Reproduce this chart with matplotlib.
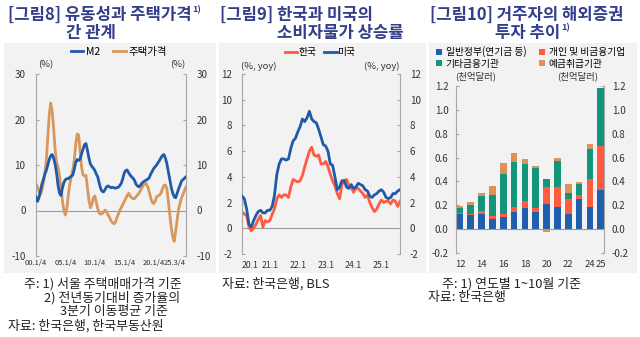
import numpy as np
import matplotlib
matplotlib.use('Agg')
import matplotlib.pyplot as plt
from matplotlib.patches import Rectangle

plt.rcParams['font.family'] = ['Noto Sans CJK KR', 'DejaVu Sans']
plt.rcParams['axes.unicode_minus'] = False

W, H = 640, 337

# ---- [그림8] M2 vs housing prices (quarterly, 2000Q1-2025Q3, %) ----
m2 = [3.0, 2.0, 2.8, 4.2, 5.8, 6.8, 8.0, 8.8, 10.0, 11.2, 12.0, 12.3, 11.5, 10.2, 8.2, 5.5,
      3.8, 3.3, 5.0, 6.2, 6.8, 7.0, 7.0, 7.3, 7.5, 7.8, 9.0, 10.6, 11.2, 11.0, 11.3, 12.5,
      13.5, 14.5, 14.7, 13.2, 11.5, 10.2, 9.7, 9.3, 8.8, 8.0, 7.4, 6.0, 4.8, 4.2, 4.1, 4.6,
      5.2, 5.4, 5.2, 5.0, 5.1, 5.0, 4.9, 5.0, 5.1, 5.5, 6.0, 7.0, 8.2, 8.8, 8.9, 8.3,
      7.8, 7.4, 7.1, 6.6, 5.8, 5.4, 5.2, 5.5, 6.0, 6.3, 6.5, 6.7, 6.9, 7.2, 8.0, 8.6,
      9.2, 9.6, 10.0, 10.5, 11.0, 11.6, 12.1, 12.3, 11.5, 10.3, 8.5, 6.8, 5.0, 3.8, 3.0, 2.8,
      3.8, 4.8, 5.6, 6.5, 6.8, 7.1, 7.4]
house = [5.9, 5.2, 4.2, 3.5, 4.5, 6.0, 8.0, 11.0, 16.0, 21.0, 23.6, 21.8, 18.0, 13.5, 10.5, 9.5,
         7.5, 5.0, 2.0, 0.0, -1.0, 0.5, 3.5, 5.8, 7.5, 8.9, 11.0, 14.5, 16.8, 16.6, 13.0, 9.5,
         7.8, 7.6, 7.7, 5.0, 2.2, 0.6, 1.4, 2.8, 3.2, 1.8, 0.4, -0.6, -0.8, -0.7, -0.3, 0.1,
         -0.3, -1.0, -1.5, -2.2, -2.7, -2.9, -2.6, -1.6, -0.8, 0.0, 0.7, 1.3, 2.0, 2.6, 3.3, 3.8,
         3.2, 2.8, 2.6, 2.6, 3.0, 3.4, 3.8, 4.4, 5.0, 5.6, 5.8, 5.9, 5.2, 4.1, 2.8, 1.8,
         1.5, 2.0, 3.0, 3.2, 3.4, 3.8, 4.8, 5.5, 5.6, 4.8, 2.0, -1.0, -3.8, -5.8, -6.8, -4.5,
         -2.0, 0.4, 1.6, 2.8, 3.6, 4.4, 5.2]
q_labels = ['00.1/4', '05.1/4', '10.1/4', '15.1/4', '20.1/4', '25.3/4']
q_label_idx = [0, 20, 40, 60, 80, 102]

# ---- [그림9] CPI inflation, Korea vs US (monthly, 2020.1-2025.9, % yoy) ----
cpi_kr = [1.3, 1.1, 1.0, 0.1, -0.2, 0.0, 0.3, 0.7, 1.0, 0.1, 0.6, 0.5,
          0.6, 1.1, 1.5, 2.3, 2.6, 2.4, 2.6, 2.6, 2.4, 3.2, 3.8, 3.7,
          3.6, 3.7, 4.1, 4.8, 5.4, 6.0, 6.3, 5.7, 5.6, 5.7, 5.0, 5.0,
          5.2, 4.8, 4.2, 3.7, 3.3, 2.7, 2.3, 3.4, 3.7, 3.8, 3.3, 3.2,
          2.8, 3.1, 3.1, 2.9, 2.7, 2.4, 2.6, 2.0, 1.6, 1.3, 1.5, 1.9,
          2.2, 2.0, 2.1, 2.1, 1.9, 2.2, 2.1, 1.7, 2.1]
cpi_us = [2.5, 2.3, 1.5, 0.3, 0.1, 0.6, 1.0, 1.3, 1.4, 1.2, 1.2, 1.4,
          1.4, 1.7, 2.6, 4.2, 5.0, 5.4, 5.4, 5.3, 5.4, 6.2, 6.8, 7.0,
          7.5, 7.9, 8.5, 8.3, 8.6, 9.1, 8.5, 8.3, 8.2, 7.7, 7.1, 6.5,
          6.4, 6.0, 5.0, 4.9, 4.0, 3.0, 3.2, 3.7, 3.7, 3.2, 3.1, 3.4,
          3.1, 3.2, 3.5, 3.4, 3.3, 3.0, 2.9, 2.5, 2.4, 2.6, 2.7, 2.9,
          3.0, 2.8, 2.4, 2.3, 2.4, 2.7, 2.7, 2.9, 3.0]
m_labels = ['20.1', '21.1', '22.1', '23.1', '24.1', '25.1']
m_label_idx = [0, 12, 24, 36, 48, 60]

# ---- [그림10] Residents' overseas securities investment (천억달러) ----
years = ['12', '13', '14', '15', '16', '17', '18', '19', '20', '21', '22', '23', '24', '25']
gov = [0.125, 0.117, 0.131, 0.087, 0.098, 0.145, 0.176, 0.145, 0.210, 0.187, 0.131, 0.252, 0.185, 0.330]
corp = [0.010, 0.014, 0.020, 0.019, 0.028, 0.042, 0.056, 0.034, 0.145, 0.168, 0.118, 0.033, 0.232, 0.367]
other_fin = [0.045, 0.069, 0.129, 0.179, 0.333, 0.378, 0.311, 0.330, 0.062, 0.218, 0.051, 0.093, 0.252, 0.483]
deposit = [0.014, 0.024, 0.025, 0.075, 0.098, 0.070, 0.047, 0.022, -0.020, 0.027, 0.075, 0.014, 0.044, -0.005]
shown_year_labels = ['12', '14', '16', '18', '20', '22', '24', '25']

TITLE_C = '#343f8c'
TEXT_C = '#333333'
SPINE_C = '#a6a6a6'
BG_C = '#f2f2f2'

fig = plt.figure(figsize=(W / 100, H / 100), dpi=100)
fig.patch.set_facecolor('white')

# light panels behind each chart
for x0, x1 in [(4, 216), (219, 426), (429, 637)]:
    fig.patches.append(Rectangle((x0 / W, 1 - 273 / H), (x1 - x0) / W, (273 - 43) / H,
                                 transform=fig.transFigure, facecolor=BG_C, edgecolor='none',
                                 zorder=-10))


def px_axes(x0, x1, ytop, ybot):
    ax = fig.add_axes([x0 / W, 1 - ybot / H, (x1 - x0) / W, (ybot - ytop) / H])
    ax.patch.set_visible(False)
    return ax


def style(ax, ypad, xpad, xsize):
    for s in ['top', 'bottom']:
        ax.spines[s].set_visible(False)
    for s in ['left', 'right']:
        ax.spines[s].set_color(SPINE_C)
        ax.spines[s].set_linewidth(0.8)
    ax.tick_params(axis='y', direction='in', length=2.5, width=0.8, color=SPINE_C,
                   labelsize=7, labelcolor=TEXT_C, left=True, right=True,
                   labelleft=True, labelright=True, pad=ypad)
    ax.tick_params(axis='x', bottom=True, top=False, length=0, labelsize=xsize,
                   labelcolor=TEXT_C, pad=xpad, labelbottom=True, labeltop=False)
    ax.axhline(0, color='#9a9a9a', lw=0.8, zorder=1)


def fx(px):
    return px / W


def fy(py):
    return 1 - py / H


# ---------------- Panel 1 ----------------
ax1 = px_axes(36, 186, 74, 256)
xq = np.arange(len(m2))
l_m2, = ax1.plot(xq, m2, color='#1f5aa8', lw=2.0, label='M2', zorder=3)
l_h, = ax1.plot(xq, house, color='#d8975d', lw=2.0, label='주택가격', zorder=2)
ax1.set_xlim(0, len(m2) - 1)
ax1.set_ylim(-10, 30)
ax1.set_yticks(np.arange(-10, 31, 10))
style(ax1, ypad=7.5, xpad=2, xsize=5.5)
ax1.set_xticks(q_label_idx)
ax1.set_xticklabels(q_labels)
ax1.get_xticklabels()[-1].set_ha('right')
ax1.legend(handles=[l_m2, l_h], loc='center', bbox_to_anchor=(fx(119), fy(52)),
           bbox_transform=fig.transFigure, ncol=2, frameon=False, fontsize=7.5,
           handlelength=1.2, handletextpad=0.3, columnspacing=1.2, borderpad=0)
fig.text(fx(46), fy(65), '(%)', fontsize=6.8, color=TEXT_C, ha='center', va='center')
fig.text(fx(178), fy(65), '(%)', fontsize=6.8, color=TEXT_C, ha='center', va='center')

# ---------------- Panel 2 ----------------
ax2 = px_axes(242, 400, 74, 254)
xm = np.arange(len(cpi_kr))
l_kr, = ax2.plot(xm, cpi_kr, color='#ff5a42', lw=2.0, label='한국', zorder=2)
l_us, = ax2.plot(xm, cpi_us, color='#1f5aa8', lw=2.0, label='미국', zorder=3)
ax2.set_xlim(0, len(cpi_kr) - 1)
ax2.set_ylim(-2, 12)
ax2.set_yticks(np.arange(-2, 13, 2))
style(ax2, ypad=7, xpad=5, xsize=6.3)
ax2.set_xticks(m_label_idx)
ax2.set_xticklabels(m_labels)
ax2.get_xticklabels()[0].set_ha('left')
ax2.legend(handles=[l_kr, l_us], loc='center', bbox_to_anchor=(fx(320), fy(52)),
           bbox_transform=fig.transFigure, ncol=2, frameon=False, fontsize=7,
           handlelength=1.3, handletextpad=0.1, columnspacing=0.8, borderpad=0)
fig.text(fx(259), fy(66), '(%, yoy)', fontsize=6.8, color=TEXT_C, ha='center', va='center')
fig.text(fx(382), fy(66), '(%, yoy)', fontsize=6.8, color=TEXT_C, ha='center', va='center')

# ---------------- Panel 3 ----------------
ax3 = px_axes(456, 604, 86, 253)
xb = np.arange(len(years))
pos_base = np.zeros(len(years))
neg_base = np.zeros(len(years))
handles = []
series = [(gov, '#1f5fad', '일반정부(연기금 등)'),
          (corp, '#ff5b40', '개인 및 비금융기업'),
          (other_fin, '#12957b', '기타금융기관'),
          (deposit, '#d99259', '예금취급기관')]
for vals, col, lab in series:
    v = np.array(vals)
    bottom = np.where(v >= 0, pos_base, neg_base)
    bc = ax3.bar(xb, v, 0.62, bottom=bottom, color=col, label=lab, zorder=2)
    pos_base = pos_base + np.clip(v, 0, None)
    neg_base = neg_base + np.clip(v, None, 0)
    handles.append(bc)
ax3.set_xlim(-0.37, len(years) - 1 + 0.3)
ax3.set_ylim(-0.2, 1.2)
yt3 = np.round(np.arange(-0.2, 1.21, 0.2), 1)
ax3.set_yticks(yt3)
ax3.set_yticklabels([f'{t:.1f}' for t in yt3])
style(ax3, ypad=5.5, xpad=5, xsize=6.8)
ax3.set_xticks([years.index(y) for y in shown_year_labels])
ax3.set_xticklabels(shown_year_labels)
ax3.legend(handles=[handles[0], handles[2], handles[1], handles[3]],
           loc='center left', bbox_to_anchor=(fx(436), fy(57.5)),
           bbox_transform=fig.transFigure, ncol=2, frameon=False, fontsize=7,
           handlelength=0.6, handleheight=0.6, handletextpad=0.4, columnspacing=1.3,
           labelspacing=0.15, borderpad=0, borderaxespad=0)
fig.text(fx(476), fy(76), '(천억달러)', fontsize=6.8, color=TEXT_C, ha='center', va='center')
fig.text(fx(578), fy(76), '(천억달러)', fontsize=6.8, color=TEXT_C, ha='center', va='center')

# ---------------- Titles ----------------
title_kw = dict(fontsize=12, fontweight='bold', color=TITLE_C, va='center', ha='left')
t1 = fig.text(fx(8), fy(15), '[그림8] 유동성과 주택가격', **title_kw)
fig.text(fx(66), fy(33), '간 관계', **title_kw)
fig.text(fx(220), fy(15), '[그림9] 한국과 미국의', **title_kw)
fig.text(fx(277), fy(33), '소비자물가 상승률', **title_kw)
fig.text(fx(430), fy(15), '[그림10] 거주자의 해외증권', **title_kw)
t3 = fig.text(fx(495), fy(33), '투자 추이', **title_kw)

fig.canvas.draw()
renderer = fig.canvas.get_renderer()
for t, ypx in [(t1, 10), (t3, 28)]:
    bb = t.get_window_extent(renderer)
    fig.text((bb.x1 + 1) / W, fy(ypx), '1)', fontsize=6.5, fontweight='bold',
             color=TITLE_C, ha='left', va='center')

# ---------------- Notes ----------------
note_kw = dict(fontsize=9.3, color='#222222', ha='left', va='center')
fig.text(fx(24), fy(284), '주: 1) 서울 주택매매가격 기준', **note_kw)
fig.text(fx(44), fy(298), '2) 전년동기대비 증가율의', **note_kw)
fig.text(fx(60), fy(312), '3분기 이동평균 기준', **note_kw)
fig.text(fx(8), fy(326), '자료: 한국은행, 한국부동산원', **note_kw)
fig.text(fx(222), fy(284), '자료: 한국은행, BLS', **note_kw)
fig.text(fx(442), fy(284), '주: 1) 연도별 1~10월 기준', **note_kw)
fig.text(fx(428), fy(298), '자료: 한국은행', **note_kw)

fig.savefig('out.png', dpi=100)
